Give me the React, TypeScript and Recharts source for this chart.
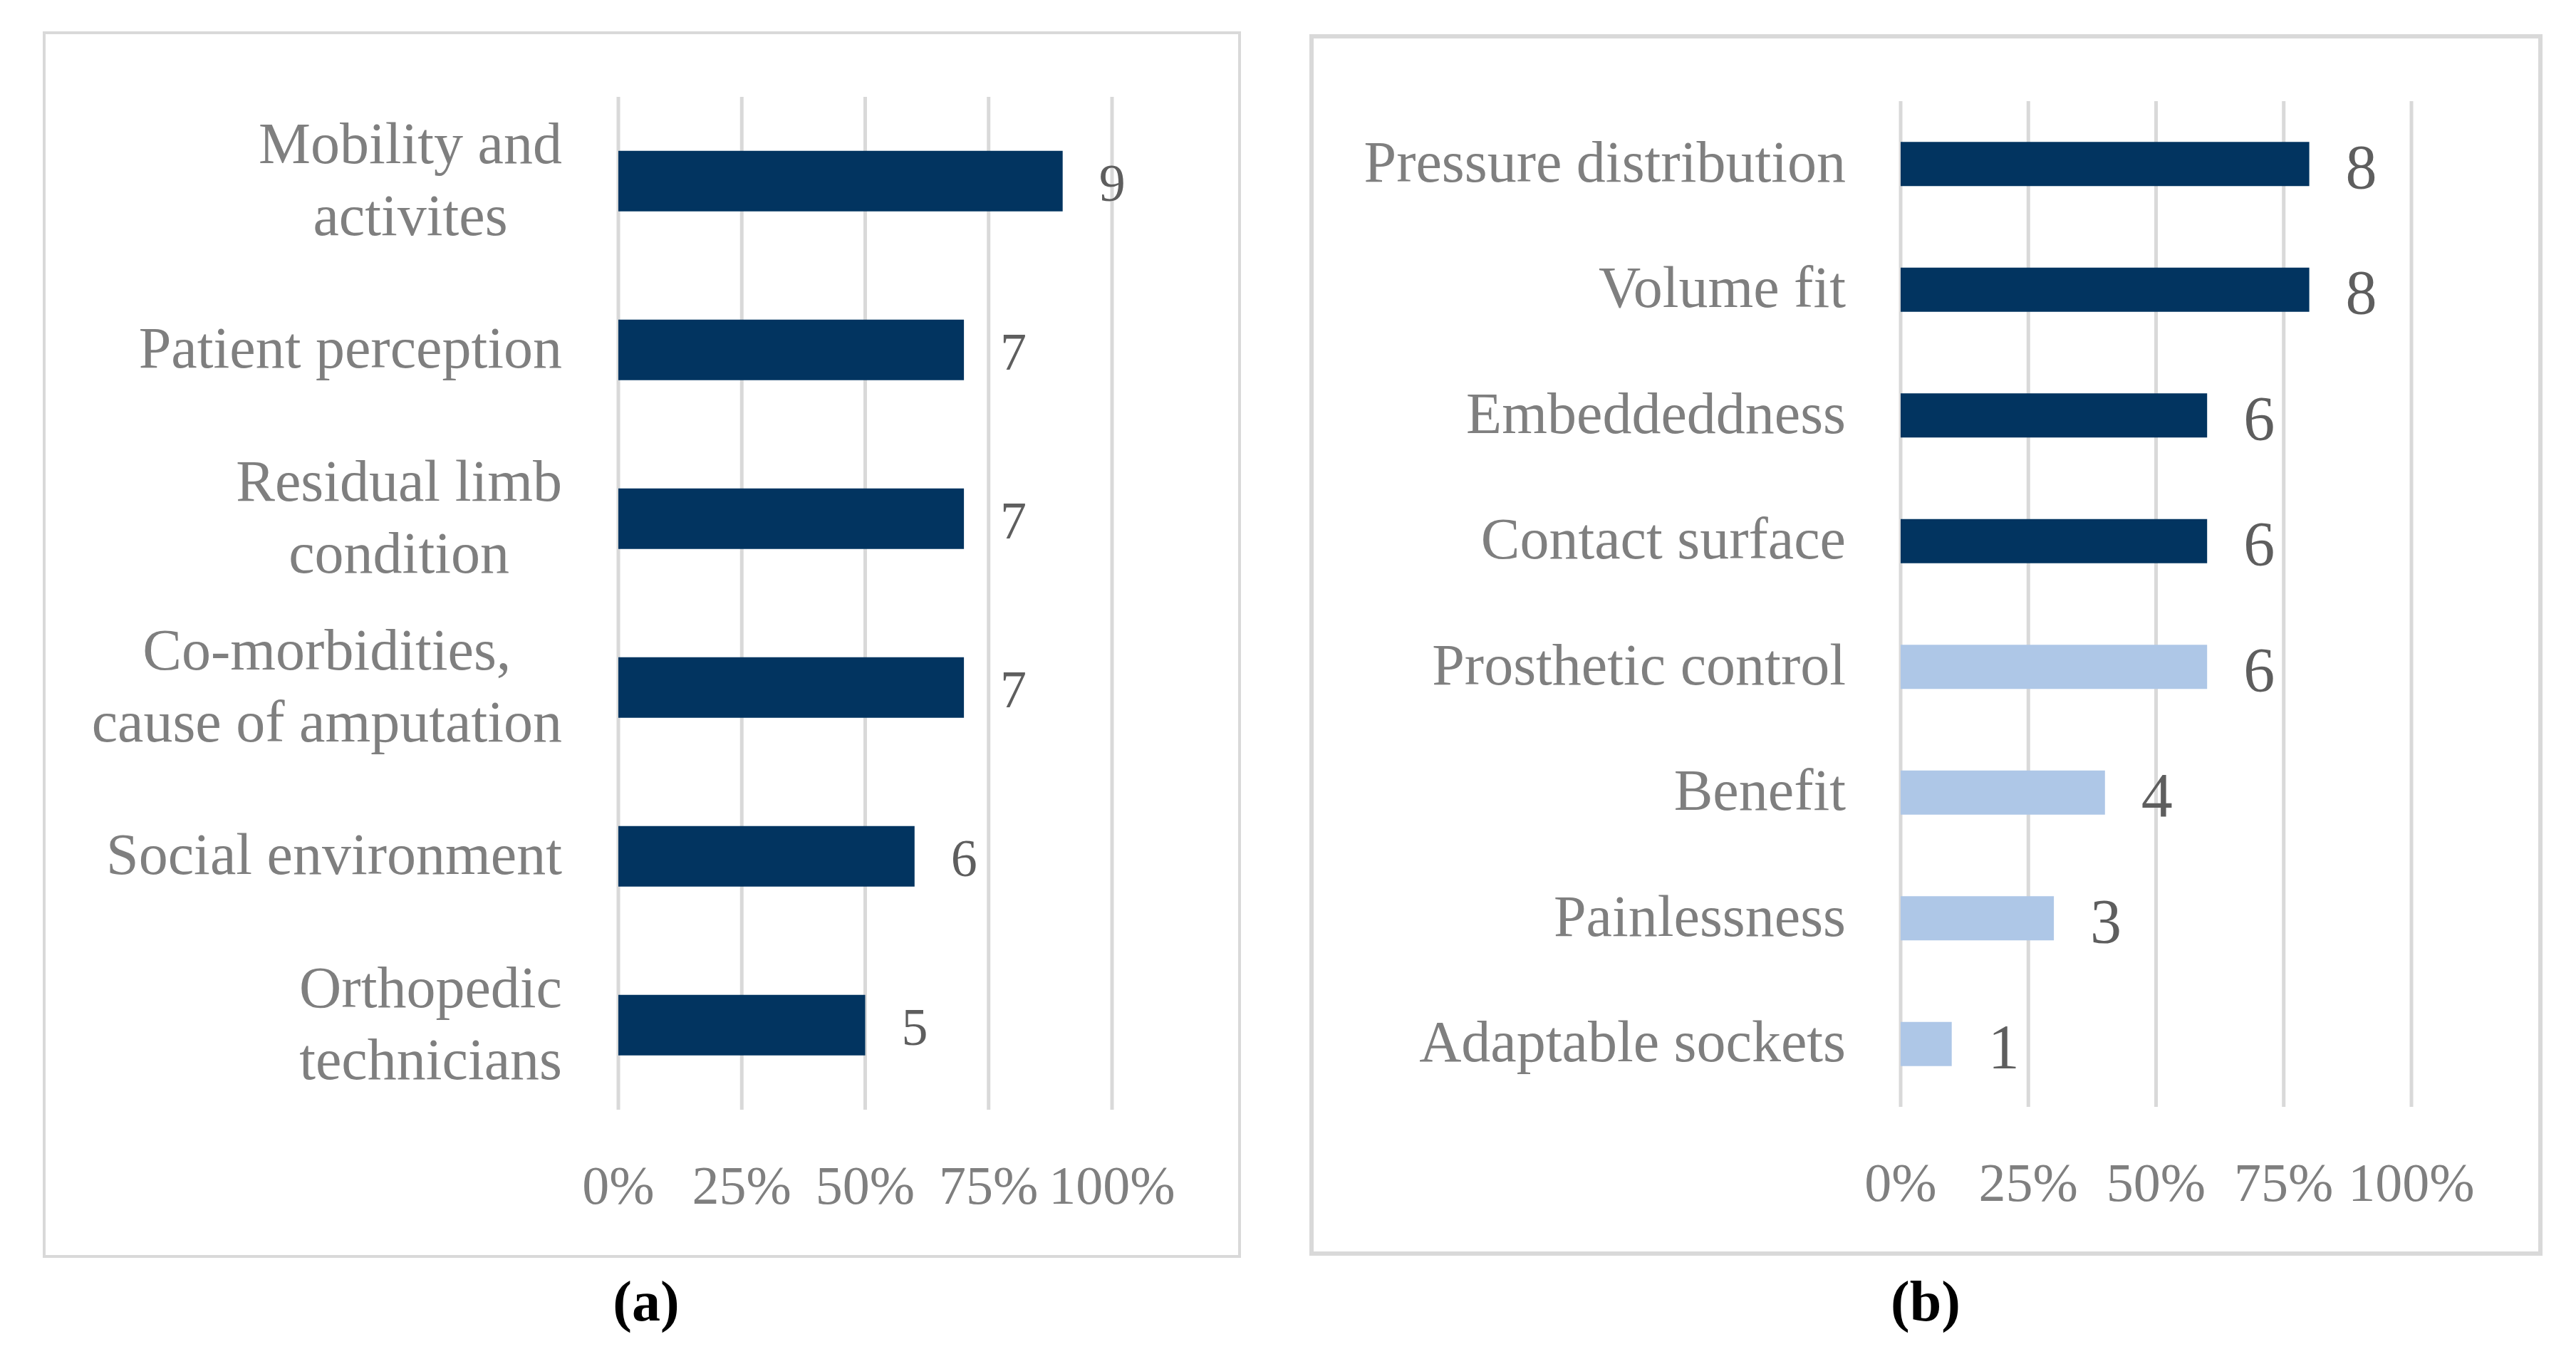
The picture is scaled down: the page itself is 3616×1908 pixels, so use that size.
import React from 'react';
import { BarChart, Bar, XAxis, YAxis, CartesianGrid, Cell, LabelList } from 'recharts';

// ---------- data ----------
const factorCategories = [
  'Mobility and\nactivites',
  'Patient perception',
  'Residual limb\ncondition',
  'Co-morbidities,\ncause of amputation',
  'Social environment',
  'Orthopedic\ntechnicians',
];
const factorCounts = [9, 7, 7, 7, 6, 5];

const socketCategories = [
  'Pressure distribution',
  'Volume fit',
  'Embeddeddness',
  'Contact surface',
  'Prosthetic control',
  'Benefit',
  'Painlessness',
  'Adaptable sockets',
];
const socketCounts = [8, 8, 6, 6, 6, 4, 3, 1];
const socketGroups = ['A', 'A', 'A', 'A', 'B', 'B', 'B', 'B'];

const axisTickValues = [0, 2.5, 5, 7.5, 10];
const axisTickLabels = ['0%', '25%', '50%', '75%', '100%'];
const axisDomain = [0, 10];
const panelCaptions = ['(a)', '(b)'];

// ---------- styles ----------
const FONT = '"Liberation Serif", "Times New Roman", serif';
const NAVY = '#023460';
const LIGHT = '#AEC7E7';
const GRID = '#D9D9D9';
const LABEL_GRAY = '#7F7F7F';
const VALUE_GRAY = '#5E5E5E';
const groupColor: Record<string, string> = { A: NAVY, B: LIGHT };

const factorData = factorCategories.map((name, i) => ({ name, value: factorCounts[i] }));
const socketData = socketCategories.map((name, i) => ({ name, value: socketCounts[i], group: socketGroups[i] }));

let ctx: CanvasRenderingContext2D | null = null;
function measure(text: string, font: string): number {
  if (!ctx) ctx = document.createElement('canvas').getContext('2d');
  if (!ctx) return text.length * 40;
  ctx.font = font;
  return ctx.measureText(text).width;
}

const CAT_FONT = 82;
const CAT_LINE = 101;

const makeCategoryTick = (gap: number) => (props: any) => {
  const { x, y, payload } = props;
  const lines = String(payload.value).split('\n');
  const font = `${CAT_FONT}px ${FONT}`;
  const maxW = Math.max(...lines.map((l) => measure(l, font)));
  const right = x - gap;
  const cx = right - maxW / 2;
  const base = y + CAT_FONT * 0.3;
  return (
    <text textAnchor="middle" fontSize={CAT_FONT} fontFamily={FONT} fill={LABEL_GRAY}>
      {lines.map((l, i) => (
        <tspan key={i} x={cx} y={base + (i - (lines.length - 1) / 2) * CAT_LINE}>
          {l}
        </tspan>
      ))}
    </text>
  );
};

const PercentTick = (props: any) => {
  const { x, y, payload } = props;
  const idx = axisTickValues.indexOf(payload.value);
  return (
    <text x={x} y={y + 132} textAnchor="middle" fontSize={76} fontFamily={FONT} fill={LABEL_GRAY}>
      {idx >= 0 ? axisTickLabels[idx] : payload.value}
    </text>
  );
};

const makeValueLabel = (fontSize: number) => (props: any) => {
  const vb = props.viewBox && props.viewBox.width !== undefined ? props.viewBox : props;
  const { x, y, width, height } = vb;
  return (
    <text
      x={x + width + 51}
      y={y + height / 2 + fontSize * 0.38}
      fontSize={fontSize}
      fontFamily={FONT}
      fill={VALUE_GRAY}
    >
      {props.value}
    </text>
  );
};

export default function App() {
  return (
    <div style={{ position: 'absolute', left: 0, top: 0, width: 3616, height: 1908, background: '#fff', overflow: 'hidden' }}>
      {/* panel borders */}
      <div style={{ position: 'absolute', left: 60, top: 44, width: 1682, height: 1722, border: `4px solid ${GRID}`, boxSizing: 'border-box' }} />
      <div style={{ position: 'absolute', left: 1838, top: 48, width: 1731, height: 1715, border: `6px solid ${GRID}`, boxSizing: 'border-box' }} />

      {/* panel (a) */}
      <div style={{ position: 'absolute', left: 62, top: 46 }}>
        <BarChart
          width={1678}
          height={1718}
          data={factorData}
          layout="vertical"
          margin={{ top: 90, right: 179, bottom: 0, left: 0 }}
          barCategoryGap="32%"
        >
          <CartesianGrid horizontal={false} vertical stroke={GRID} strokeWidth={5} />
          <XAxis
            type="number"
            domain={axisDomain}
            ticks={axisTickValues}
            interval={0}
            axisLine={false}
            tickLine={false}
            tickSize={0}
            tickMargin={0}
            height={206}
            tick={PercentTick}
          />
          <YAxis
            type="category"
            dataKey="name"
            width={806}
            interval={0}
            axisLine={false}
            tickLine={false}
            tickSize={0}
            tickMargin={0}
            tick={makeCategoryTick(79)}
          />
          <Bar dataKey="value" fill={NAVY} isAnimationActive={false}>
            <LabelList dataKey="value" content={makeValueLabel(74)} />
          </Bar>
        </BarChart>
      </div>

      {/* panel (b) */}
      <div style={{ position: 'absolute', left: 1841, top: 51 }}>
        <BarChart
          width={1725}
          height={1709}
          data={socketData}
          layout="vertical"
          margin={{ top: 91, right: 181, bottom: 0, left: 0 }}
          barCategoryGap="32.5%"
        >
          <CartesianGrid horizontal={false} vertical stroke={GRID} strokeWidth={5} />
          <XAxis
            type="number"
            domain={axisDomain}
            ticks={axisTickValues}
            interval={0}
            axisLine={false}
            tickLine={false}
            tickSize={0}
            tickMargin={0}
            height={206}
            tick={PercentTick}
          />
          <YAxis
            type="category"
            dataKey="name"
            width={827}
            interval={0}
            axisLine={false}
            tickLine={false}
            tickSize={0}
            tickMargin={0}
            tick={makeCategoryTick(77)}
          />
          <Bar dataKey="value" isAnimationActive={false}>
            {socketData.map((d, i) => (
              <Cell key={i} fill={groupColor[d.group]} />
            ))}
            <LabelList dataKey="value" content={makeValueLabel(88)} />
          </Bar>
        </BarChart>
      </div>

      {/* captions */}
      <svg width={3616} height={1908} style={{ position: 'absolute', left: 0, top: 0, pointerEvents: 'none' }}>
        <text x={907} y={1854} textAnchor="middle" fontSize={80} fontWeight="bold" fontFamily={FONT} fill="#000">
          {panelCaptions[0]}
        </text>
        <text x={2703} y={1854} textAnchor="middle" fontSize={80} fontWeight="bold" fontFamily={FONT} fill="#000">
          {panelCaptions[1]}
        </text>
      </svg>
    </div>
  );
}
